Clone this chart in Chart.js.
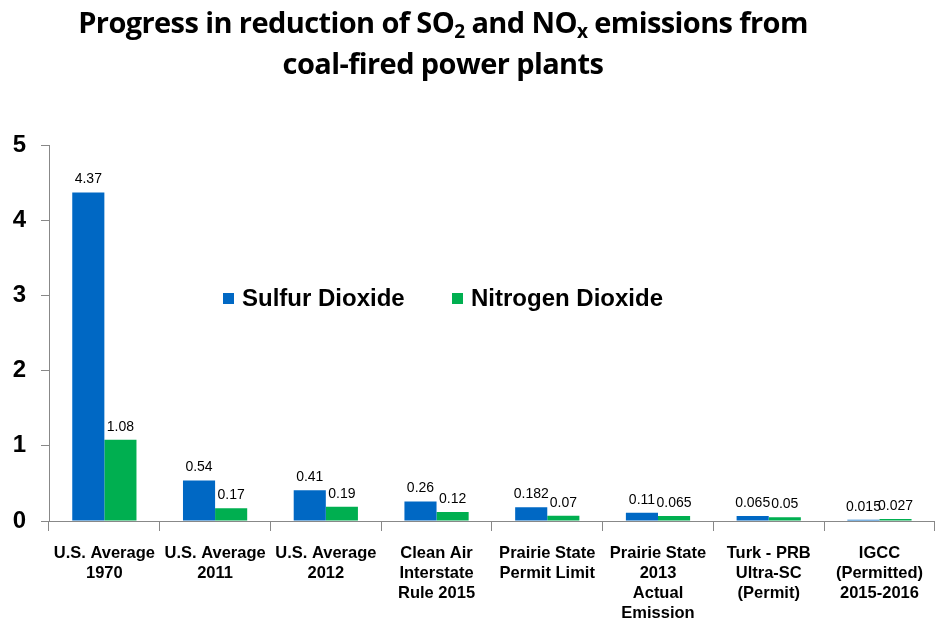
<!DOCTYPE html>
<html>
<head>
<meta charset="utf-8">
<script src="https://cdn.jsdelivr.net/npm/chart.js@4"></script>
<style>
  html, body { margin: 0; padding: 0; background: #fff; }
  #wrap { position: relative; width: 935px; height: 623px; }
  #title {
    position: absolute; left: 0; top: 0; width: 886px;
    text-align: center; font-family: "Open Sans", sans-serif; font-weight: 700;
    font-size: 29px; line-height: 41px; letter-spacing: -0.6px; color: #000;
    padding-top: 1px;
  }
  #title sub { font-size: 19px; vertical-align: -5px; line-height: 0; }
  canvas { position: absolute; left: 0; top: 0; }
</style>
</head>
<body>
<div id="wrap">
  <canvas id="chart" width="935" height="623"></canvas>
  <div id="title">Progress in reduction of SO<sub>2</sub> and NO<sub>x</sub> emissions from<br>coal-fired power plants</div>
</div>
<script>
// Categories (multi-line labels)
const categories = [
  ['U.S. Average', '1970'],
  ['U.S. Average', '2011'],
  ['U.S. Average', '2012'],
  ['Clean Air', 'Interstate', 'Rule 2015'],
  ['Prairie State', 'Permit Limit'],
  ['Prairie State', '2013', 'Actual', 'Emission'],
  ['Turk - PRB', 'Ultra-SC', '(Permit)'],
  ['IGCC', '(Permitted)', '2015-2016']
];

// Series values
const sulfurDioxide = [4.37, 0.54, 0.41, 0.26, 0.182, 0.11, 0.065, 0.015];
const nitrogenDioxide = [1.08, 0.17, 0.19, 0.12, 0.07, 0.065, 0.05, 0.027];

// Y axis ticks
const yTicks = [0, 1, 2, 3, 4, 5];

const BLUE = '#0068C4';
const GREEN = '#00AF50';
const AXIS = '#888888';

// Value labels above each bar
const valueLabels = {
  id: 'valueLabels',
  afterDatasetsDraw(chart) {
    const ctx = chart.ctx;
    ctx.save();
    ctx.font = '14px "Liberation Sans", Arial, sans-serif';
    ctx.fillStyle = '#000';
    ctx.textAlign = 'center';
    ctx.textBaseline = 'bottom';
    chart.data.datasets.forEach((ds, di) => {
      chart.getDatasetMeta(di).data.forEach((bar, i) => {
        ctx.fillText(String(ds.data[i]), bar.x, bar.y - 6);
      });
    });
    ctx.restore();
  }
};

// Legend drawn inside the plot area
const innerLegend = {
  id: 'innerLegend',
  afterDraw(chart) {
    const ctx = chart.ctx;
    const x0 = [223, 452];
    const y = 298;
    ctx.save();
    ctx.font = 'bold 24px "Liberation Sans", Arial, sans-serif';
    ctx.textBaseline = 'middle';
    ctx.textAlign = 'left';
    chart.data.datasets.forEach((ds, i) => {
      ctx.fillStyle = ds.backgroundColor;
      ctx.fillRect(x0[i], y - 5, 11, 11);
      ctx.fillStyle = '#000';
      ctx.fillText(ds.label, x0[i] + 19, y + 1);
    });
    ctx.restore();
  }
};

new Chart(document.getElementById('chart'), {
  type: 'bar',
  data: {
    labels: categories,
    datasets: [
      { label: 'Sulfur Dioxide', data: sulfurDioxide, backgroundColor: BLUE },
      { label: 'Nitrogen Dioxide', data: nitrogenDioxide, backgroundColor: GREEN }
    ]
  },
  options: {
    responsive: false,
    animation: false,
    layout: { padding: { top: 145, left: 0, right: 0, bottom: 0 } },
    datasets: { bar: { categoryPercentage: 0.58, barPercentage: 1.0 } },
    plugins: {
      legend: { display: false },
      tooltip: { enabled: false }
    },
    scales: {
      x: {
        grid: {
          offset: true, drawOnChartArea: false, drawTicks: true,
          tickLength: 10, color: AXIS
        },
        border: { color: AXIS, width: 1 },
        ticks: {
          color: '#000', padding: 12, maxRotation: 0, autoSkip: false,
          font: { family: '"Liberation Sans", Arial, sans-serif', size: 16.5, weight: 'bold', lineHeight: 1.22 }
        },
        afterFit: (s) => { s.height = 102; }
      },
      y: {
        min: 0, max: 5,
        afterBuildTicks: (s) => { s.ticks = yTicks.map(v => ({ value: v })); },
        grid: { drawOnChartArea: false, drawTicks: true, tickLength: 8, color: AXIS },
        border: { color: AXIS, width: 1 },
        ticks: {
          color: '#000', padding: 15,
          font: { family: '"Liberation Sans", Arial, sans-serif', size: 24, weight: 'bold' }
        },
        afterFit: (s) => { s.width = 49; }
      }
    }
  },
  plugins: [valueLabels, innerLegend]
});
</script>
</body>
</html>
